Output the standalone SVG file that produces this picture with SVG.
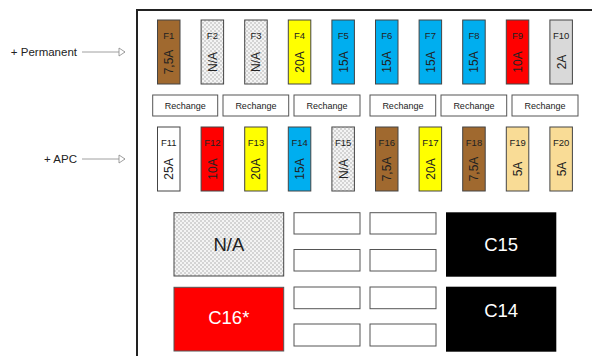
<svg xmlns="http://www.w3.org/2000/svg" width="592" height="356" viewBox="0 0 592 356">
<defs>
<pattern id="dots" width="4" height="4" patternUnits="userSpaceOnUse">
<rect width="4" height="4" fill="#f4f4f4"/>
<rect x="0.5" y="0.5" width="1" height="1" fill="#777"/>
<rect x="2.5" y="2.5" width="1" height="1" fill="#777"/>
</pattern>
<marker id="arr" markerWidth="8" markerHeight="10" refX="7" refY="5" orient="auto" markerUnits="userSpaceOnUse">
<path d="M1,1 L7,5 L1,9 Z" fill="#fff" stroke="#888" stroke-width="0.8"/>
</marker>
</defs>
<style>
text{font-family:"Liberation Sans",Arial,sans-serif;fill:#222}
.fuse{stroke:#444;stroke-width:1}
.lbl{font-size:9.5px;text-anchor:middle}
.val{font-size:12px;text-anchor:middle}
.rch{fill:#fff;stroke:#555;stroke-width:1}
.rt{font-size:9px;text-anchor:middle}
.sm{fill:#fff;stroke:#555;stroke-width:1}
.big{font-size:18.5px;text-anchor:middle}
.side{font-size:11.5px;text-anchor:end}
.brown{fill:#a0692f}.yel{fill:#ffff00}.blue{fill:#00aeef}.red{fill:#ff0000}.gray{fill:#d9d9d9}.tan{fill:#f9dc96}.white{fill:#fff}.na{fill:url(#dots)}
</style>
<rect width="592" height="356" fill="#fff"/>
<path d="M137,356 V10 H592" fill="none" stroke="#222" stroke-width="2"/>

<g id="connectors">
<line x1="82" y1="52" x2="125" y2="52" stroke="#888" stroke-width="0.8" marker-end="url(#arr)"/>
<line x1="82" y1="159" x2="125" y2="159" stroke="#888" stroke-width="0.8" marker-end="url(#arr)"/>
</g>
<g id="label-permanent"><text class="side" x="77" y="56">+ Permanent</text></g>
<g id="label-apc"><text class="side" x="77" y="163">+ APC</text></g>

<g id="F1"><rect class="fuse brown" x="157.5" y="20" width="22.5" height="64"/><text class="lbl" x="168.8" y="38.5">F1</text><text class="val" transform="translate(173.1,62) rotate(-90)">7,5A</text></g>
<g id="F2"><rect class="fuse na" x="201.1" y="20" width="22.5" height="64"/><text class="lbl" x="212.4" y="38.5">F2</text><text class="val" transform="translate(216.7,62) rotate(-90)">N/A</text></g>
<g id="F3"><rect class="fuse na" x="244.7" y="20" width="22.5" height="64"/><text class="lbl" x="256" y="38.5">F3</text><text class="val" transform="translate(260.3,62) rotate(-90)">N/A</text></g>
<g id="F4"><rect class="fuse yel" x="288.3" y="20" width="22.5" height="64"/><text class="lbl" x="299.6" y="38.5">F4</text><text class="val" transform="translate(303.9,62) rotate(-90)">20A</text></g>
<g id="F5"><rect class="fuse blue" x="331.9" y="20" width="22.5" height="64"/><text class="lbl" x="343.2" y="38.5">F5</text><text class="val" transform="translate(347.5,62) rotate(-90)">15A</text></g>
<g id="F6"><rect class="fuse blue" x="375.5" y="20" width="22.5" height="64"/><text class="lbl" x="386.8" y="38.5">F6</text><text class="val" transform="translate(391.1,62) rotate(-90)">15A</text></g>
<g id="F7"><rect class="fuse blue" x="419.1" y="20" width="22.5" height="64"/><text class="lbl" x="430.4" y="38.5">F7</text><text class="val" transform="translate(434.7,62) rotate(-90)">15A</text></g>
<g id="F8"><rect class="fuse blue" x="462.7" y="20" width="22.5" height="64"/><text class="lbl" x="474" y="38.5">F8</text><text class="val" transform="translate(478.3,62) rotate(-90)">15A</text></g>
<g id="F9"><rect class="fuse red" x="506.3" y="20" width="22.5" height="64"/><text class="lbl" x="517.6" y="38.5">F9</text><text class="val" transform="translate(521.9,62) rotate(-90)">10A</text></g>
<g id="F10"><rect class="fuse gray" x="549.9" y="20" width="22.5" height="64"/><text class="lbl" x="561.2" y="38.5">F10</text><text class="val" transform="translate(565.5,62) rotate(-90)">2A</text></g>

<g id="R1"><rect class="rch" x="152.7" y="95" width="65" height="21"/><text class="rt" x="185.2" y="108.8">Rechange</text></g>
<g id="R2"><rect class="rch" x="223" y="95" width="65.7" height="21"/><text class="rt" x="255.9" y="108.8">Rechange</text></g>
<g id="R3"><rect class="rch" x="294" y="95" width="66" height="21"/><text class="rt" x="327" y="108.8">Rechange</text></g>
<g id="R4"><rect class="rch" x="370" y="95" width="65.7" height="21"/><text class="rt" x="402.9" y="108.8">Rechange</text></g>
<g id="R5"><rect class="rch" x="441" y="95" width="65.7" height="21"/><text class="rt" x="473.9" y="108.8">Rechange</text></g>
<g id="R6"><rect class="rch" x="512" y="95" width="66" height="21"/><text class="rt" x="545" y="108.8">Rechange</text></g>

<g id="F11"><rect class="fuse white" x="157.5" y="127" width="22.5" height="64"/><text class="lbl" x="168.8" y="145.5">F11</text><text class="val" transform="translate(173.1,169) rotate(-90)">25A</text></g>
<g id="F12"><rect class="fuse red" x="201.1" y="127" width="22.5" height="64"/><text class="lbl" x="212.4" y="145.5">F12</text><text class="val" transform="translate(216.7,169) rotate(-90)">10A</text></g>
<g id="F13"><rect class="fuse yel" x="244.7" y="127" width="22.5" height="64"/><text class="lbl" x="256" y="145.5">F13</text><text class="val" transform="translate(260.3,169) rotate(-90)">20A</text></g>
<g id="F14"><rect class="fuse blue" x="288.3" y="127" width="22.5" height="64"/><text class="lbl" x="299.6" y="145.5">F14</text><text class="val" transform="translate(303.9,169) rotate(-90)">15A</text></g>
<g id="F15"><rect class="fuse na" x="331.9" y="127" width="22.5" height="64"/><text class="lbl" x="343.2" y="145.5">F15</text><text class="val" transform="translate(347.5,169) rotate(-90)">N/A</text></g>
<g id="F16"><rect class="fuse brown" x="375.5" y="127" width="22.5" height="64"/><text class="lbl" x="386.8" y="145.5">F16</text><text class="val" transform="translate(391.1,169) rotate(-90)">7,5A</text></g>
<g id="F17"><rect class="fuse yel" x="419.1" y="127" width="22.5" height="64"/><text class="lbl" x="430.4" y="145.5">F17</text><text class="val" transform="translate(434.7,169) rotate(-90)">20A</text></g>
<g id="F18"><rect class="fuse brown" x="462.7" y="127" width="22.5" height="64"/><text class="lbl" x="474" y="145.5">F18</text><text class="val" transform="translate(478.3,169) rotate(-90)">7,5A</text></g>
<g id="F19"><rect class="fuse tan" x="506.3" y="127" width="22.5" height="64"/><text class="lbl" x="517.6" y="145.5">F19</text><text class="val" transform="translate(521.9,169) rotate(-90)">5A</text></g>
<g id="F20"><rect class="fuse tan" x="549.9" y="127" width="22.5" height="64"/><text class="lbl" x="561.2" y="145.5">F20</text><text class="val" transform="translate(565.5,169) rotate(-90)">5A</text></g>

<g id="NA"><rect class="fuse na" x="174" y="212.7" width="109.7" height="63.3"/><text class="big" x="228.8" y="250.5">N/A</text></g>
<g id="C16"><rect x="174" y="287.3" width="109.7" height="63.7" fill="#ff0000" stroke="#555" stroke-width="1"/><text class="big" x="228.8" y="324" style="fill:#fff">C16*</text></g>
<g id="S1"><rect class="sm" x="294" y="212.7" width="66" height="21.3"/></g>
<g id="S2"><rect class="sm" x="294" y="249.5" width="66" height="21.5"/></g>
<g id="S3"><rect class="sm" x="294" y="287" width="66" height="21.7"/></g>
<g id="S4"><rect class="sm" x="294" y="324" width="66" height="22"/></g>
<g id="S5"><rect class="sm" x="370" y="212.7" width="66" height="21.3"/></g>
<g id="S6"><rect class="sm" x="370" y="249.5" width="66" height="21.5"/></g>
<g id="S7"><rect class="sm" x="370" y="287" width="66" height="21.7"/></g>
<g id="S8"><rect class="sm" x="370" y="324" width="66" height="22"/></g>
<g id="C15"><rect x="446" y="212.3" width="110.3" height="64.4" fill="#000"/><text class="big" x="501.2" y="251" style="fill:#fff">C15</text></g>
<g id="C14"><rect x="446" y="286.7" width="110.3" height="65" fill="#000"/><text class="big" x="501.2" y="316.5" style="fill:#fff">C14</text></g>
</svg>
